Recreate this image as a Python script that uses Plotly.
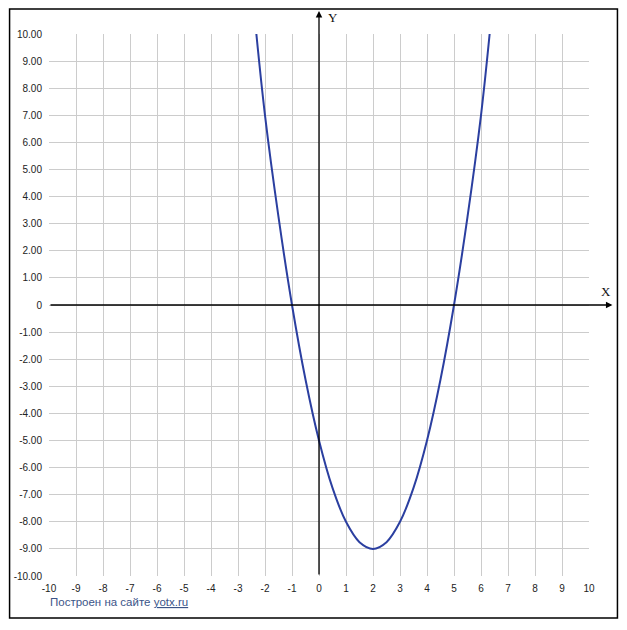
import plotly.graph_objects as go

# точки параболы
x_vals = [-2.32, -2, -1.5, -1, -0.5, 0, 0.5, 1, 1.5, 2, 2.5, 3, 3.5, 4, 4.5, 5, 5.5, 6, 6.32]
y_vals = [10, 7, 3.25, 0, -2.75, -5, -6.75, -8, -8.75, -9, -8.75, -8, -6.75, -5, -2.75, 0, 3.25, 7, 10]

tick_vals = list(range(-10, 11))
y_tick_text = ['0' if v == 0 else f'{v:.2f}' for v in tick_vals]
x_tick_text = [str(v) for v in tick_vals]

# страница добавляет 8px отступа body, поэтому фигура чуть меньше окна
OFF = 8
W, H = 627 - 2 * OFF, 630 - 2 * OFF
L, R, T, B = 48.5 - OFF, 589.5 - OFF, 34 - OFF, 576 - OFF


def px_x(p):
    return (p - OFF - L) / (R - L)


def px_y(p):
    return (B - (p - OFF)) / (B - T)


fig = go.Figure()
fig.add_trace(go.Scatter(
    x=x_vals, y=y_vals, mode='lines', line_shape='spline',
    line=dict(color='#2b3fa0', width=2), hoverinfo='skip', showlegend=False,
))

axis_common = dict(
    range=[-10, 10], tickvals=tick_vals, showgrid=True, gridcolor='#cccccc',
    gridwidth=1, zeroline=False, showline=False, ticks='', fixedrange=True,
    automargin=False,
    tickfont=dict(family='Liberation Sans', size=10, color='#222222'),
)
fig.update_xaxes(ticktext=x_tick_text, ticklabelstandoff=5, **axis_common)
fig.update_yaxes(ticktext=y_tick_text, ticklabelstandoff=6, **axis_common)

# рамка вокруг всего графика
fig.add_shape(type='rect', xref='paper', yref='paper',
              x0=px_x(9), x1=px_x(618), y0=px_y(618), y1=px_y(9),
              line=dict(color='black', width=1.5))

# оси со стрелками
fig.add_annotation(xref='x domain', yref='y', axref='x domain', ayref='y',
                   x=px_x(613), y=0, ax=0, ay=0, text='', showarrow=True,
                   arrowhead=2, arrowsize=1, arrowwidth=1.3, arrowcolor='black')
fig.add_annotation(xref='x', yref='y domain', axref='x', ayref='y domain',
                   x=0, y=px_y(11), ax=0, ay=0, text='', showarrow=True,
                   arrowhead=2, arrowsize=1, arrowwidth=1.3, arrowcolor='black')

fig.add_annotation(xref='paper', yref='paper', x=px_x(607), y=px_y(291),
                   xanchor='center', yanchor='middle', text='X', showarrow=False,
                   font=dict(family='Liberation Serif', size=13, color='#111111'))
fig.add_annotation(xref='paper', yref='paper', x=px_x(333), y=px_y(17),
                   xanchor='center', yanchor='middle', text='Y', showarrow=False,
                   font=dict(family='Liberation Serif', size=13, color='#111111'))

fig.add_annotation(xref='paper', yref='paper', x=px_x(47), y=px_y(602),
                   xanchor='left', yanchor='middle',
                   text='Построен на сайте <u>yotx.ru</u>',
                   showarrow=False,
                   font=dict(family='Liberation Sans', size=11.5, color='#3b5488'))

fig.update_layout(
    width=W, height=H,
    margin=dict(l=L, r=W - R, t=T, b=H - B),
    plot_bgcolor='white', paper_bgcolor='white',
)

fig.write_html('out.html')
